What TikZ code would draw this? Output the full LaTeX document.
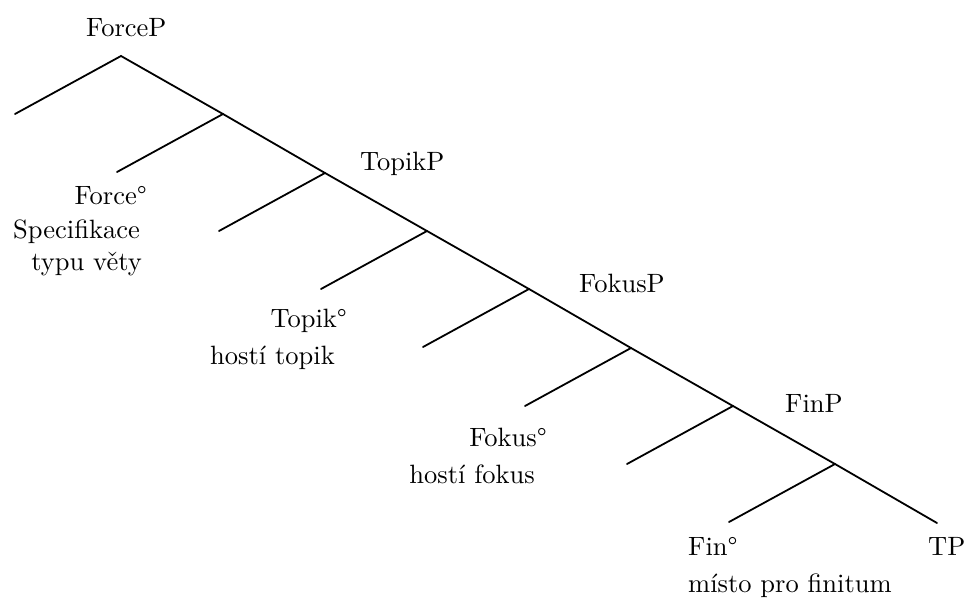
\documentclass[tikz,border=0pt]{standalone}
\usepackage{fontspec}
\setmainfont{lmroman10-regular.otf}
\usetikzlibrary{positioning}

\begin{document}
\begin{tikzpicture}[x=1pt, y=-1pt,
		every node/.style={inner sep=0pt, font=\fontsize{26.5}{35}\selectfont},
		branch/.style={line width=1.8pt, line cap=round}]
				
				\useasboundingbox (0,0) rectangle (966,605);
				
				\coordinate (R0) at (121,56);
				\coordinate (L0) at (15,114);
				\coordinate (S1) at (223,114);
				\coordinate (L1) at (117,172);
				\coordinate (S2) at (325,173);
				\coordinate (L2) at (219,231);
				\coordinate (S3) at (427,231);
				\coordinate (L3) at (321,289);
				\coordinate (S4) at (529,289);
				\coordinate (L4) at (423,347);
				\coordinate (S5) at (631,348);
				\coordinate (L5) at (525,406);
				\coordinate (S6) at (733,406);
				\coordinate (L6) at (627,464);
				\coordinate (S7) at (835,464);
				\coordinate (L7) at (729,522);
				\coordinate (TP) at (937,523);
				
				\draw[branch] (L0) -- (R0) -- (S1) -- (S2) -- (S3) -- (S4) -- (S5) -- (S6) -- (S7) -- (TP);
				\draw[branch] (S1) -- (L1);
				\draw[branch] (S2) -- (L2);
				\draw[branch] (S3) -- (L3);
				\draw[branch] (S4) -- (L4);
				\draw[branch] (S5) -- (L5);
				\draw[branch] (S6) -- (L6);
				\draw[branch] (S7) -- (L7);
				
				\node[anchor=base west] (ForceP) at (86,36) {ForceP};
				\node[anchor=base west] (TopikP) at (360,170) {TopikP};
				\node[anchor=base west] (FokusP) at (579,292) {FokusP};
				\node[anchor=base west] (FinP) at (785,412) {FinP};
				\node[anchor=base west] (TPlab) at (928,555) {TP};
				
				\node[anchor=base east] (Force) at (147,204) {Force°};
				\node[anchor=base east] (Topik) at (347,327) {Topik°};
				\node[anchor=base east] (Fokus) at (547,446) {Fokus°};
				\node[anchor=base west] (Fin) at (688,555) {Fin°};
				
				\node[anchor=base east] (ForceT) at (140,238) {Specifikace};
				\node[anchor=base east] (ForceT2) at (142,270) {typu věty};
				\node[anchor=base east] (TopikT) at (335,364) {hostí topik};
				\node[anchor=base east] (FokusT) at (535,483) {hostí fokus};
				\node[anchor=base west] (FinT) at (688,592) {místo pro finitum};
				
			\end{tikzpicture}
\end{document}
